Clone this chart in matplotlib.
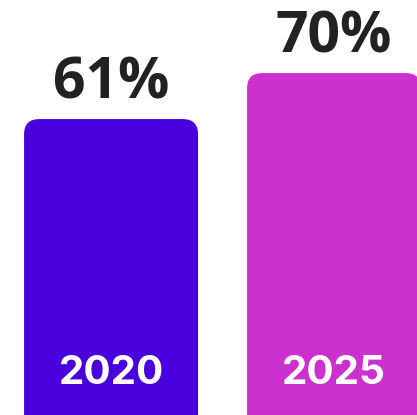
import matplotlib
matplotlib.use("Agg")
import matplotlib.pyplot as plt
from matplotlib.patches import FancyBboxPatch

years = ["2020", "2025"]
shares = [61, 70]
colors = ["#4a00dc", "#cc30cf"]


def main():
    fig = plt.figure(figsize=(4.17, 4.15), dpi=100)
    ax = fig.add_axes([0, 0, 1, 1])
    ymin, ymax = 3.1, 84.3
    xmin, xmax = -0.498, 1.372
    ax.set_xlim(xmin, xmax)
    ax.set_ylim(ymin, ymax)
    ax.axis("off")

    width = 0.78
    # aspect between y units and x units per pixel, for round corners
    x_per_px = (xmax - xmin) / 417
    y_per_px = (ymax - ymin) / 415
    aspect = y_per_px / x_per_px

    for i, (year, share, color) in enumerate(zip(years, shares, colors)):
        left = i - width / 2
        box = FancyBboxPatch(
            (left, -10), width, share + 10,
            boxstyle="round,pad=0,rounding_size=0.068",
            mutation_aspect=aspect,
            facecolor=color, edgecolor="none",
        )
        ax.add_patch(box)

        ax.annotate(f"{share}%", xy=(i, share), xytext=(0, 5),
                    textcoords="offset points", ha="center", va="bottom",
                    fontsize=41, fontweight="bold", color="#222222",
                    family="Open Sans")
        ax.text(i, 11.3, year, ha="center", va="center", fontsize=29,
                fontweight="bold", color="white", family="Inter")

    fig.savefig("out.png", dpi=100)
    plt.close(fig)


if __name__ == "__main__":
    main()
